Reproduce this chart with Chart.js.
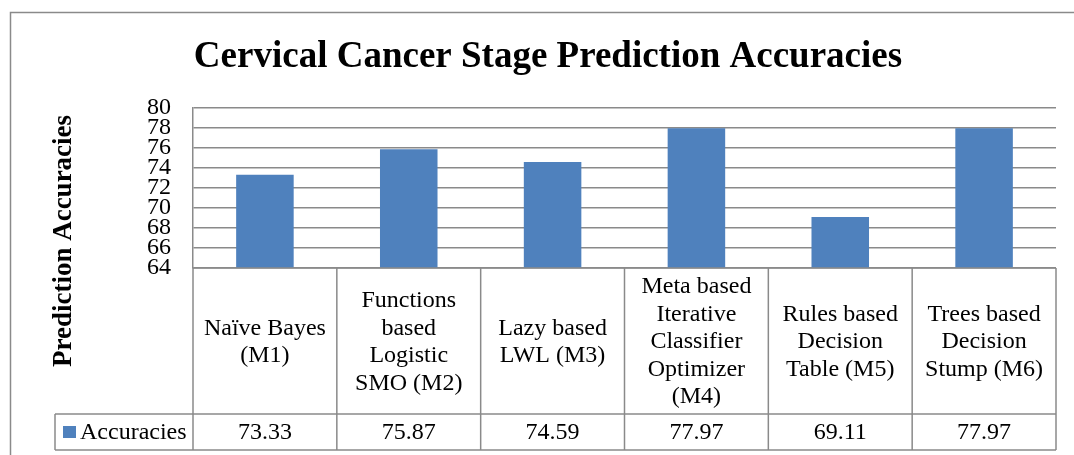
<!DOCTYPE html>
<html>
<head>
<meta charset="utf-8">
<script src="https://cdn.jsdelivr.net/npm/chart.js@4/dist/chart.umd.min.js"></script>
<style>
html, body { margin: 0; padding: 0; background: #fff; }
</style>
</head>
<body>
<canvas id="myChart" width="1074" height="455"></canvas>
<script>
var chartTitle = "Cervical Cancer Stage Prediction Accuracies"
var yTitle = "Prediction Accuracies"
var seriesName = "Accuracies"

var categories = [
    ["Naïve Bayes", "(M1)"],
    ["Functions", "based", "Logistic", "SMO (M2)"],
    ["Lazy based", "LWL (M3)"],
    ["Meta based", "Iterative", "Classifier", "Optimizer", "(M4)"],
    ["Rules based", "Decision", "Table (M5)"],
    ["Trees based", "Decision", "Stump (M6)"]
]
var accuracies = [73.33, 75.87, 74.59, 77.97, 69.11, 77.97]
var yTicks = [64, 66, 68, 70, 72, 74, 76, 78, 80]

var serif = "'Liberation Serif', 'Times New Roman', serif"
var lineGray = "#8a8a8a"

// white page + outer chart border
var frame = {
    id: "frame",
    beforeDraw: function(chart) {
        var ctx = chart.ctx
        ctx.save()
        ctx.fillStyle = "#fff"
        ctx.fillRect(0, 0, chart.width, chart.height)
        ctx.strokeStyle = lineGray
        ctx.lineWidth = 1.5
        ctx.strokeRect(10.5, 12.5, 1200, 600)
        ctx.restore()
    }
}

// y title + data table under the plot
var dataTable = {
    id: "dataTable",
    afterDraw: function(chart) {
        var ctx = chart.ctx
        var area = chart.chartArea
        var xs = chart.scales.x
        var n = categories.length
        var top = area.bottom
        var mid = 414
        var bot = 450
        var legendLeft = 55

        ctx.save()

        // rotated axis title
        ctx.save()
        ctx.translate(71, 241)
        ctx.rotate(-Math.PI / 2)
        ctx.font = "bold 27px " + serif
        ctx.fillStyle = "#000"
        ctx.textAlign = "center"
        ctx.textBaseline = "alphabetic"
        ctx.fillText(yTitle, 0, 0)
        ctx.restore()

        // grid of the table
        ctx.strokeStyle = lineGray
        ctx.lineWidth = 1.5
        ctx.beginPath()
        ctx.moveTo(area.left, top); ctx.lineTo(area.right, top)
        ctx.moveTo(legendLeft, mid); ctx.lineTo(area.right, mid)
        ctx.moveTo(legendLeft, bot); ctx.lineTo(area.right, bot)
        ctx.moveTo(legendLeft, mid); ctx.lineTo(legendLeft, bot)
        ctx.moveTo(area.left, top); ctx.lineTo(area.left, bot)
        for (var i = 0; i < n; i++) {
            var edge = i < n - 1 ? (xs.getPixelForValue(i) + xs.getPixelForValue(i + 1)) / 2 : area.right
            ctx.moveTo(edge, top); ctx.lineTo(edge, bot)
        }
        ctx.stroke()

        // category names and values
        ctx.fillStyle = "#000"
        ctx.font = "24px " + serif
        ctx.textAlign = "center"
        ctx.textBaseline = "middle"
        var lh = 27.5
        for (var i = 0; i < n; i++) {
            var cx = xs.getPixelForValue(i)
            var lines = categories[i]
            var y0 = (top + mid) / 2 + 1 - (lines.length - 1) * lh / 2
            for (var j = 0; j < lines.length; j++) {
                ctx.fillText(lines[j], cx, y0 + j * lh)
            }
            ctx.fillText(accuracies[i].toFixed(2), cx, (mid + bot) / 2 + 1)
        }

        // legend key in the first cell
        var ds = chart.data.datasets[0]
        ctx.fillStyle = ds.backgroundColor
        ctx.fillRect(63, 426, 13, 12)
        ctx.fillStyle = "#000"
        ctx.textAlign = "left"
        ctx.fillText(ds.label, 80, (mid + bot) / 2 + 1)

        ctx.restore()
    }
}

var myChart = document.getElementById("myChart").getContext("2d")

var chart = new Chart(myChart, {
    type: "bar",
    data: {
        labels: categories,
        datasets: [
            {
                label: seriesName,
                data: accuracies,
                backgroundColor: "#4F81BD",
                barPercentage: 0.4,
                categoryPercentage: 1
            }
        ]
    },
    options: {
        responsive: false,
        animation: false,
        devicePixelRatio: 1,
        layout: { padding: { left: 40, right: 18, top: 0, bottom: 0 } },
        plugins: {
            legend: { display: false },
            tooltip: { enabled: false },
            title: {
                display: true,
                text: chartTitle,
                color: "#000",
                font: { family: serif, size: 37, weight: "bold" },
                padding: { top: 35, bottom: 28.6 }
            }
        },
        scales: {
            x: {
                grid: { display: false },
                border: { display: false },
                ticks: { display: false },
                afterFit: function(scale) { scale.height = 187 }
            },
            y: {
                min: yTicks[0],
                max: yTicks[yTicks.length - 1],
                afterBuildTicks: function(scale) {
                    scale.ticks = yTicks.map(function(v) { return { value: v } })
                },
                grid: { color: lineGray, lineWidth: 1.5, drawTicks: false },
                border: { color: lineGray, width: 1.5 },
                ticks: {
                    autoSkip: false,
                    padding: 22,
                    color: "#000",
                    font: { family: serif, size: 24, lineHeight: 1 }
                },
                afterFit: function(scale) { scale.width = 153 }
            }
        }
    },
    plugins: [frame, dataTable]
})
</script>
</body>
</html>
